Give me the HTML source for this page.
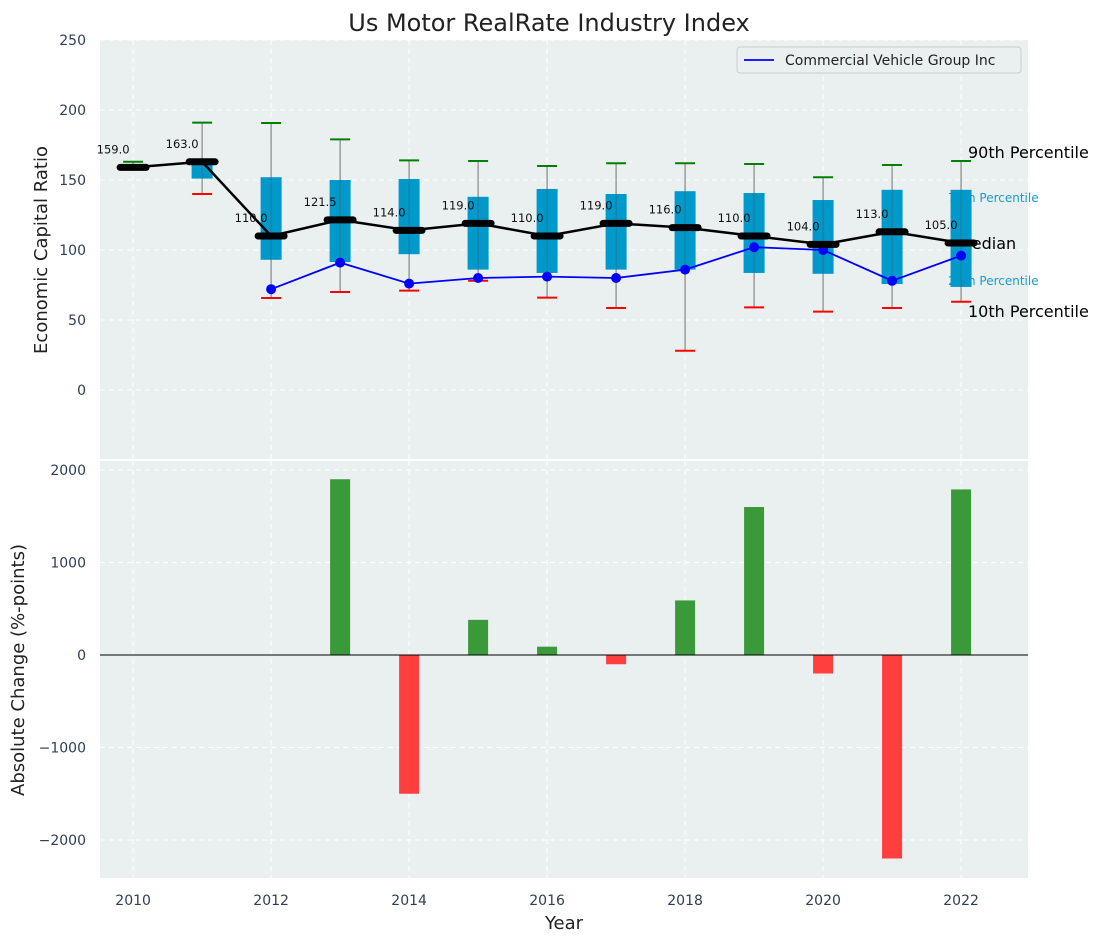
<!DOCTYPE html>
<html><head><meta charset="utf-8"><style>
body{margin:0;background:#fff;font-family:"Liberation Sans","DejaVu Sans",sans-serif}
svg text{font-family:"DejaVu Sans","Liberation Sans",sans-serif}
</style></head><body>
<svg id="chart" width="1103" height="942" xmlns="http://www.w3.org/2000/svg">
<rect width="1103" height="942" fill="#fff"/>
<text x="549" y="31" text-anchor="middle" font-size="24" fill="#222">Us Motor RealRate Industry Index</text>
<g id="topPanel"></g>
<g id="botPanel"></g>
</svg>
<script>
const years=[2010,2011,2012,2013,2014,2015,2016,2017,2018,2019,2020,2021,2022];
const medians=[159,163,110,121.5,114,119,110,119,116,110,104,113,105];
const q1=[159,151,93,91.4,97,86,83.6,86,86,83.6,83,75.7,73.6];
const q3=[159,161,152,150,150.7,138,143.6,140,142,140.7,135.7,143,143];
const p10=[159,140,65.7,70,71,78,66,58.6,28,59,56,58.6,63];
const p90=[163,191,190.7,179,164,163.6,160,162,162,161.4,152,160.7,163.6];
const companyYears=[2012,2013,2014,2015,2016,2017,2018,2019,2020,2021,2022];
const companyValues=[72,91,76,80,81,80,86,102,100,78,96];
const changeYears=[2013,2014,2015,2016,2017,2018,2019,2020,2021,2022];
const changeValues=[1900,-1500,380,90,-100,590,1600,-200,-2200,1790];
const topTicks=[0,50,100,150,200,250];
const botTicks=[-2000,-1000,0,1000,2000];
const xTicks=[2010,2012,2014,2016,2018,2020,2022];

const NS='http://www.w3.org/2000/svg';
function mk(parent,tag,attrs,text){const e=document.createElementNS(NS,tag);for(const k in attrs)e.setAttribute(k,attrs[k]);if(text!==undefined)e.textContent=text;parent.appendChild(e);return e;}
const L=100,R=1028;
const X=v=>L+(v-2009.52)*(R-L)/(2022.97-2009.52);
const YT=v=>390-v*1.4;
const YB=v=>655-v*0.0925;
const topG=document.getElementById('topPanel'),botG=document.getElementById('botPanel');
let e;

e=mk(topG,'rect',{x:L,y:40,width:R-L,height:419,fill:'#eaeff0'});


e=mk(botG,'rect',{x:L,y:461,width:R-L,height:417,fill:'#eaeff0'});



xTicks.forEach(t=>{
  mk(topG,'line',{x1:X(t),x2:X(t),y1:40,y2:459,stroke:'#fff','stroke-dasharray':'5,4','stroke-width':1});
  mk(botG,'line',{x1:X(t),x2:X(t),y1:461,y2:878,stroke:'#fff','stroke-dasharray':'5,4','stroke-width':1});
  e=mk(botG,'text',{x:X(t),y:905,'text-anchor':'middle','font-size':14,fill:'#2e3e55'},t);
  
  
});
topTicks.forEach(t=>{
  mk(topG,'line',{x1:L,x2:R,y1:YT(t),y2:YT(t),stroke:'#fff','stroke-dasharray':'5,4','stroke-width':1});
  e=mk(topG,'text',{x:86,y:YT(t)+5,'text-anchor':'end','font-size':14,fill:'#2e3e55'},t);
  
  
});
botTicks.forEach(t=>{
  mk(botG,'line',{x1:L,x2:R,y1:YB(t),y2:YB(t),stroke:'#fff','stroke-dasharray':'5,4','stroke-width':1});
  e=mk(botG,'text',{x:86,y:YB(t)+5,'text-anchor':'end','font-size':14,fill:'#2e3e55'},t<0?'\u2212'+(-t):t);
  
  
});
const pLabels=[['90th Percentile',152,968,16,'#000'],['75th Percentile',196,948,12,'#1a9bd0'],['Median',243,958,16,'#000'],['25th Percentile',279,948,12,'#1a9bd0'],['10th Percentile',311,968,16,'#000']];
pLabels.forEach(d=>{
  e=mk(topG,'text',{x:d[2],y:d[1]+6,'font-size':d[3],fill:d[4]},d[0]);
  
  
});
years.forEach((y,i)=>{
  const x=X(y);
  e=mk(topG,'line',{x1:x,x2:x,y1:YT(p90[i]),y2:YT(p10[i]),stroke:'#888','stroke-width':1.2});
  
  
  e=mk(topG,'rect',{x:x-10.5,y:YT(q3[i]),width:21,height:Math.max(0.5,YT(q1[i])-YT(q3[i])),fill:'#0099cc'});
  
  
  mk(topG,'line',{x1:x,x2:x,y1:YT(q3[i]),y2:YT(q1[i]),stroke:'#555','stroke-width':1,opacity:0.5});
  e=mk(topG,'line',{x1:x-10,x2:x+10,y1:YT(p90[i]),y2:YT(p90[i]),stroke:'green','stroke-width':2});
  
  
  if(i>0){
    e=mk(topG,'line',{x1:x-10,x2:x+10,y1:YT(p10[i]),y2:YT(p10[i]),stroke:'red','stroke-width':2});
    
    
  }
});
e=mk(topG,'polyline',{points:companyYears.map((y,i)=>X(y)+','+YT(companyValues[i])).join(' '),fill:'none',stroke:'#0000ff','stroke-width':1.8});


companyYears.forEach((y,i)=>{
  e=mk(topG,'circle',{cx:X(y),cy:YT(companyValues[i]),r:5,fill:'#0000ff'});
  
  
});
e=mk(topG,'polyline',{points:years.map((y,i)=>X(y)+','+YT(medians[i])).join(' '),fill:'none',stroke:'#000','stroke-width':2.5});


years.forEach((y,i)=>{
  e=mk(topG,'line',{x1:X(y)-13,x2:X(y)+13,y1:YT(medians[i]),y2:YT(medians[i]),stroke:'#000','stroke-width':7,'stroke-linecap':'round'});
  
  
  e=mk(topG,'text',{x:X(y)-20,y:YT(medians[i])-14,'text-anchor':'middle','font-size':11.5,fill:'#111'},medians[i].toFixed(1));
  
  
});
e=mk(topG,'rect',{x:737,y:47,width:284,height:26,rx:3,fill:'#eaeff0',stroke:'#ccc'});


mk(topG,'line',{x1:744,x2:774,y1:60,y2:60,stroke:'#0000ff','stroke-width':1.8});
e=mk(topG,'text',{x:785,y:65,'font-size':14,fill:'#222'},'Commercial Vehicle Group Inc');


changeYears.forEach((y,i)=>{
  const v=changeValues[i];
  e=mk(botG,'rect',{x:X(y)-10,y:Math.min(YB(v),YB(0)),width:20,height:Math.abs(YB(v)-YB(0)),fill:v>=0?'#3a9a3a':'#ff3e3e'});
  
  
});
mk(botG,'line',{x1:L,x2:R,y1:YB(0),y2:YB(0),stroke:'#000','stroke-width':1});
e=mk(topG,'text',{x:47,y:250,'text-anchor':'middle','font-size':18,fill:'#222',transform:'rotate(-90 47 250)'},'Economic Capital Ratio');


e=mk(botG,'text',{x:24,y:670,'text-anchor':'middle','font-size':18,fill:'#222',transform:'rotate(-90 24 670)'},'Absolute Change (%-points)');


e=mk(botG,'text',{x:564,y:929,'text-anchor':'middle','font-size':18,fill:'#222'},'Year');


</script>
</body></html>
